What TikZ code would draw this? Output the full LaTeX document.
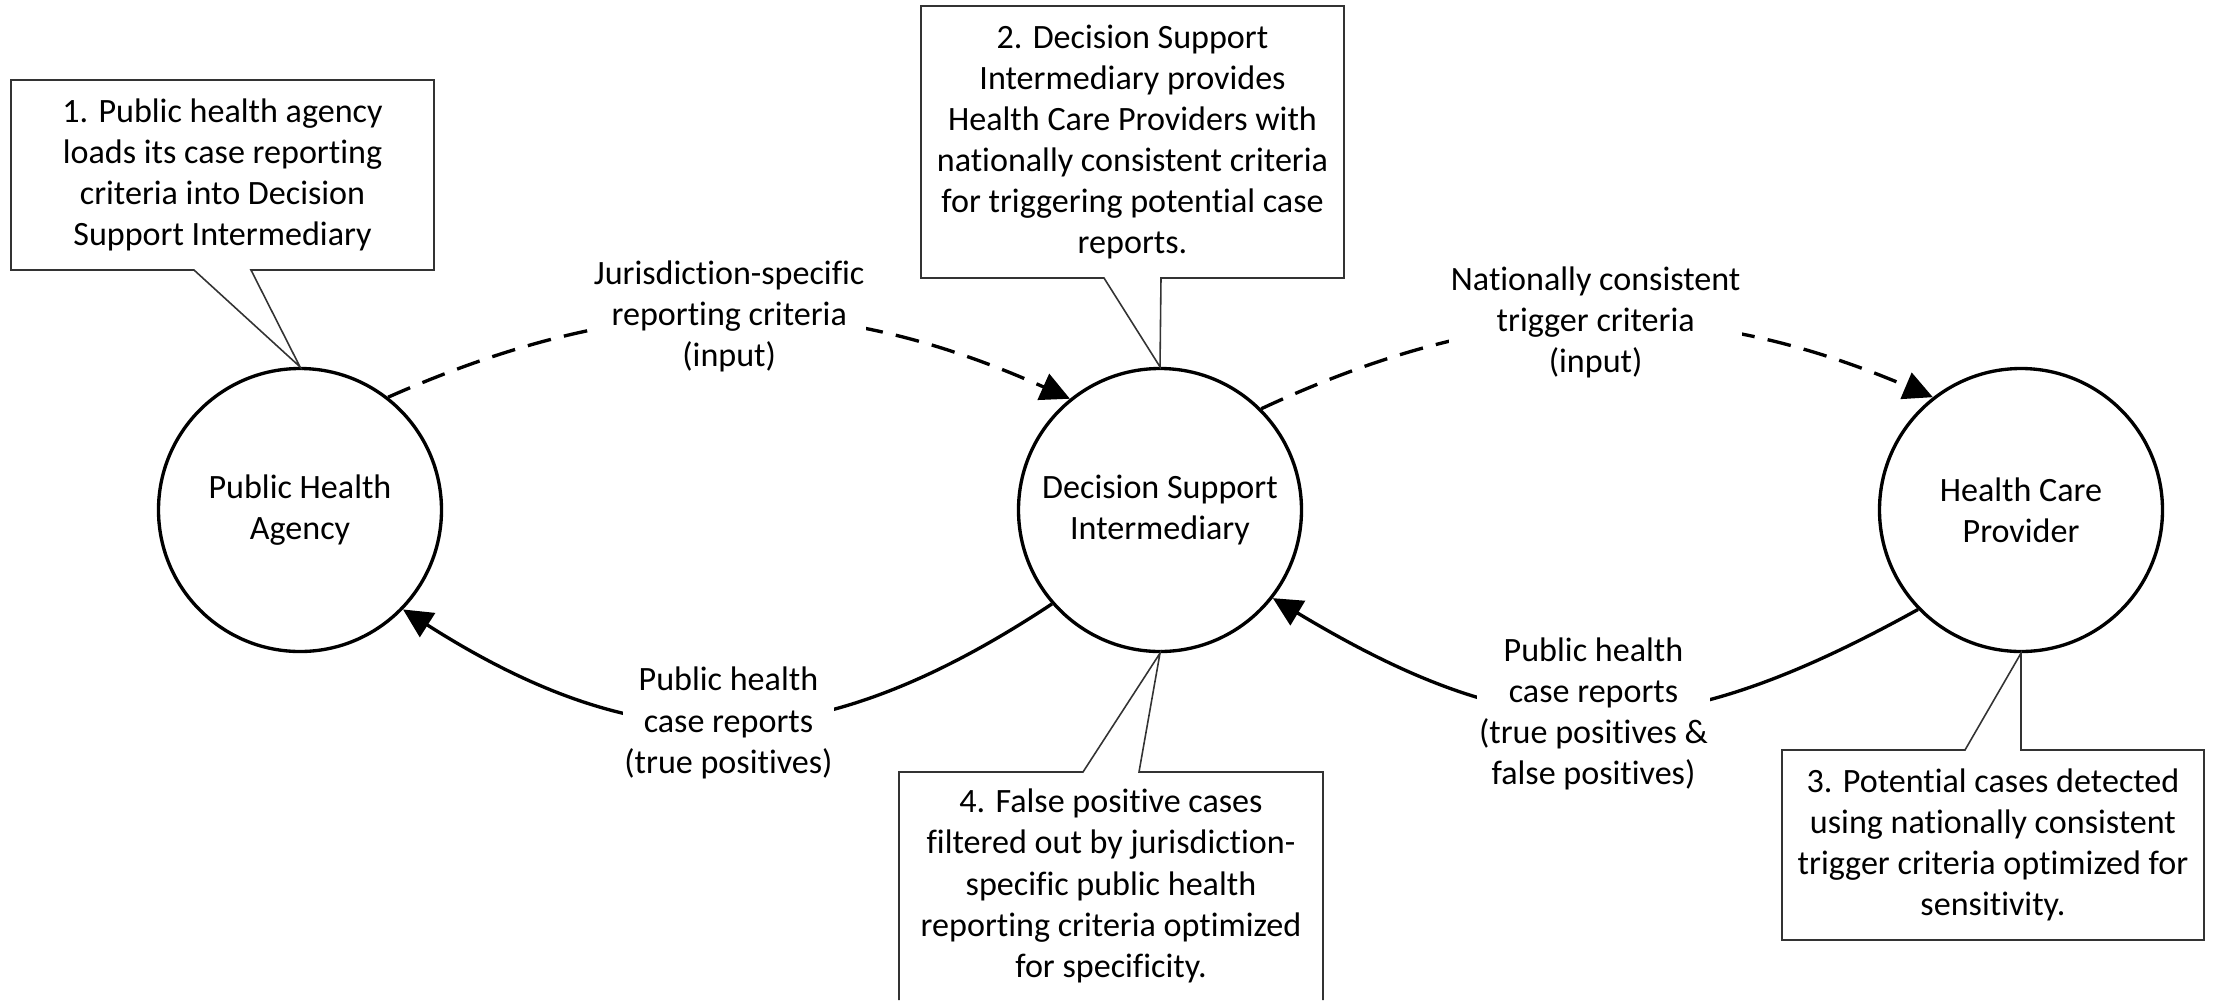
\documentclass[tikz,border=0pt]{standalone}
\usepackage{fontspec}
\setmainfont{Carlito}[Ligatures=NoCommon, Contextuals=NoAlternate]
\usetikzlibrary{arrows.meta}
\newcommand{\mainsize}{\fontsize{9.7pt}{11.7pt}\selectfont}
\tikzset{
actor/.style={
  circle,
  draw,
  line width=0.95pt,
  minimum size=2.83cm,
  inner sep=0pt,
  align=center,
  font=\mainsize
  },
callbox/.style={
  rectangle,
  fill=white,
  inner sep=0pt,
  outer sep=0pt,
  minimum width=4.23cm,
  align=center,
  font=\mainsize
  },
callline/.style={draw=black!80, line width=0.45pt},
flowlbl/.style={fill=white, inner sep=0.5pt, align=center, font=\mainsize},
flow/.style={line width=0.95pt, ->},
inflow/.style={flow, dash pattern=on 6.8pt off 3.8pt}
}

\begin{document}
\begin{tikzpicture}[>={Triangle[length=8.3pt,width=8pt]}]
\clip (0,0) rectangle (22.16,-10.01);

\node[actor] (pha) at (3.00,-5.10) {Public Health\\Agency};
\node[actor] (dsi) at (11.60,-5.10) {Decision Support\\Intermediary};
\node[actor] (hcp) at (20.21,-5.10) {Health Care\\Provider};

\node[callbox, minimum height=1.90cm]
at (2.225,-1.75)
(note1)
{1. Public health agency\\loads its case reporting\\criteria into Decision\\Support Intermediary};

\node[callbox, minimum height=2.72cm]
at (11.325,-1.42)
(note2)
{2. Decision Support\\Intermediary provides\\Health Care Providers with\\nationally consistent criteria\\for triggering potential case\\reports.};

\node[callbox, minimum width=4.22cm, minimum height=1.90cm]
at (19.93,-8.45)
(note3)
{3. Potential cases detected\\using nationally consistent\\trigger criteria optimized for\\sensitivity.};

\node[callbox, minimum width=4.24cm, minimum height=2.28cm]
at (11.11,-8.86)
(note4)
{4. False positive cases\\filtered out by jurisdiction-\\specific public health\\reporting criteria optimized\\for specificity.};

\draw[callline]
  ([xshift=-0.285cm]note1.south) -- (note1.south west) -- (note1.north west)
  -- (note1.north east) -- (note1.south east) -- ([xshift=0.285cm]note1.south)
  -- (pha.north) -- cycle;
\draw[callline]
  ([xshift=-0.285cm]note2.south) -- (note2.south west) -- (note2.north west)
  -- (note2.north east) -- (note2.south east) -- ([xshift=0.285cm]note2.south)
  -- (dsi.north) -- cycle;
\draw[callline]
  ([xshift=-0.28cm]note3.north) -- (note3.north west) -- (note3.south west)
  -- (note3.south east) -- (note3.north east) -- ([xshift=0.28cm]note3.north)
  -- (hcp.south) -- cycle;
\draw[callline]
  (note4.south west) -- (note4.north west) -- ([xshift=-0.28cm]note4.north)
  -- (dsi.south) -- ([xshift=0.28cm]note4.north) -- (note4.north east)
  -- (note4.south east);

\draw[inflow]
  (pha.52) to[bend left=24]
  node[flowlbl] (crit1) {Jurisdiction-specific\\reporting criteria\\(input)}
  (dsi.129);
\draw[inflow]
  (dsi.45.6) to[bend left=24]
  node[flowlbl] (crit2) {Nationally consistent\\trigger criteria\\(input)}
  (hcp.128);
\draw[flow]
  (dsi.221) to[bend left=33, looseness=1.12]
  node[flowlbl] (rep1) {Public health\\case reports\\(true positives)}
  (pha.-44);
\draw[flow]
  (hcp.224) to[bend left=30, looseness=1.16]
  node[flowlbl] (rep2) {Public health\\case reports\\(true positives \&\\false positives)}
  (dsi.-38.5);
\end{tikzpicture}
\end{document}
